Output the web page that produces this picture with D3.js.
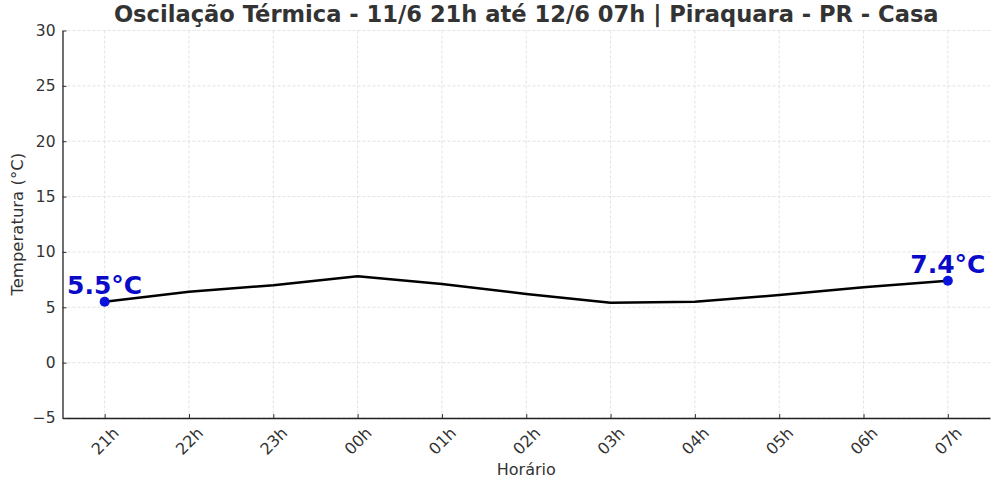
<!DOCTYPE html>
<html><head><meta charset="utf-8">
<script src="https://cdn.jsdelivr.net/npm/d3@7"></script>
<style>
body{margin:0;background:#fff;}
text{font-family:"DejaVu Sans",sans-serif;}
</style></head>
<body><svg id="c" width="1000" height="481"></svg>
<script>
const hours = ["21h","22h","23h","00h","01h","02h","03h","04h","05h","06h","07h"];
const temps = [5.5, 6.4, 7.0, 7.8, 7.1, 6.2, 5.4, 5.5, 6.1, 6.8, 7.4];
const yTicks = [-5, 0, 5, 10, 15, 20, 25, 30];
const titleText = "Oscilação Térmica - 11/6 21h até 12/6 07h | Piraquara - PR - Casa";
const xLabel = "Horário";
const yLabel = "Temperatura (°C)";

const svg = d3.select("#c");
const L = 62.5, R = 990, T = 30.5, B = 418;
const x = d3.scaleLinear().domain([-0.5, hours.length - 0.5]).range([L, R]);
const y = d3.scaleLinear().domain([-5, 30]).range([B, T]);

// grid
const g = svg.append("g");
g.selectAll(".gx").data(hours).join("line")
  .attr("x1", (d,i)=>x(i)).attr("x2", (d,i)=>x(i)).attr("y1", T).attr("y2", B)
  .attr("stroke", "#dcdcdc").attr("stroke-width", 0.8).attr("stroke-dasharray", "3,2");
g.selectAll(".gy").data(yTicks).join("line")
  .attr("x1", L).attr("x2", R).attr("y1", d=>y(d)).attr("y2", d=>y(d))
  .attr("stroke", "#dcdcdc").attr("stroke-width", 0.8).attr("stroke-dasharray", "3,2");

// axes
const xAxis = d3.axisBottom(x).tickValues(d3.range(hours.length)).tickFormat(i=>hours[i]).tickSizeInner(-4).tickSizeOuter(0);
const yAxis = d3.axisLeft(y).tickValues(yTicks).tickFormat(d=> d<0 ? "\u2212"+Math.abs(d) : d).tickSizeInner(-4).tickSizeOuter(0).tickPadding(7);

const gx = svg.append("g").attr("transform", `translate(0,${B})`).call(xAxis);
gx.select(".domain").attr("stroke", "#222").attr("stroke-width", 1.3);
gx.selectAll(".tick line").attr("stroke", "#333");
gx.selectAll(".tick text").attr("font-size", 16).attr("fill", "#333")
  .attr("text-anchor", "middle").attr("dy", null).attr("y", 0).attr("dominant-baseline","central")
  .attr("transform", "translate(0,23) rotate(-45)");

const gy = svg.append("g").attr("transform", `translate(${L},0)`).call(yAxis);
gy.select(".domain").attr("stroke", "#222").attr("stroke-width", 1.3);
gy.selectAll(".tick line").attr("stroke", "#333");
gy.selectAll(".tick text").attr("font-size", 15.5).attr("fill", "#333");

// line
const line = d3.line().x((d,i)=>x(i)).y(d=>y(d));
svg.append("path").datum(temps).attr("d", line).attr("fill","none").attr("stroke","#000").attr("stroke-width",2.5).attr("stroke-linejoin","round");

// endpoints
const ends = [0, temps.length-1];
svg.selectAll(".pt").data(ends).join("circle")
  .attr("cx", i=>x(i)).attr("cy", i=>y(temps[i])).attr("r", 5).attr("fill", "#0a14dc");
svg.selectAll(".lab").data(ends).join("text")
  .attr("x", i=>x(i)).attr("y", i=>y(temps[i]) - 8)
  .attr("text-anchor","middle").attr("font-size", 25).attr("font-weight","bold").attr("fill","#0a0ac8")
  .text(i=>temps[i].toFixed(1)+"°C");

// title & labels
svg.append("text").attr("x", (L+R)/2).attr("y", 22).attr("text-anchor","middle")
  .attr("font-size", 22.6).attr("font-weight","bold").attr("fill","#333").text(titleText);
svg.append("text").attr("x", (L+R)/2).attr("y", 475).attr("text-anchor","middle")
  .attr("font-size", 16).attr("fill","#333").text(xLabel);
svg.append("text").attr("transform", `translate(23,${(T+B)/2}) rotate(-90)`).attr("text-anchor","middle")
  .attr("font-size", 16.5).attr("fill","#333").text(yLabel);
</script></body></html>
